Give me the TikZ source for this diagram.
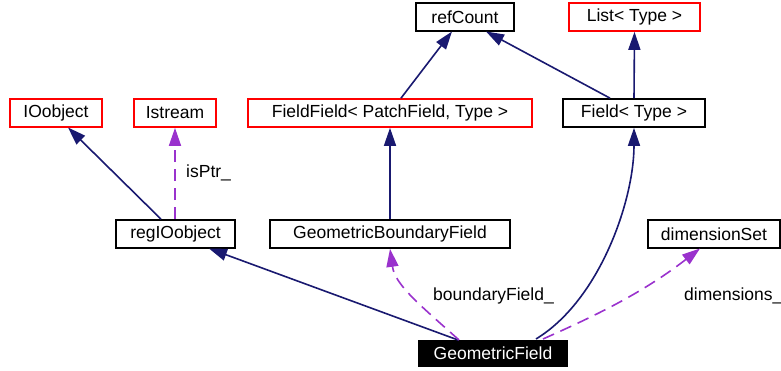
\documentclass[tikz,border=0pt]{standalone}
\usepackage{fontspec}
\setmainfont{Liberation Sans}
\usetikzlibrary{arrows.meta}
\definecolor{edgeblue}{HTML}{191970}
\definecolor{edgepurple}{HTML}{9A32CD}
\begin{document}
\begin{tikzpicture}[x=1pt,y=-1pt,
  cls/.style={draw=black,line width=1.7pt,inner sep=0pt,font=\fontsize{17.5}{20}\selectfont},
  redcls/.style={cls,draw=red},
  curcls/.style={cls,fill=black,text=white},
  inh/.style={draw=edgeblue,line width=1.6pt,-{Triangle[length=18pt,width=12pt]},color=edgeblue},
  use/.style={draw=edgepurple,line width=1.6pt,dash pattern=on 12pt off 7pt,-{Triangle[length=18pt,width=12pt]},color=edgepurple},
  lbl/.style={font=\fontsize{17.5}{20}\selectfont,inner sep=0pt,anchor=west}]
\useasboundingbox (0,0) rectangle (781,371);
\node[cls,minimum width=98pt,minimum height=28pt] (refc) at (465,17) {refCount};
\node[redcls,minimum width=131pt,minimum height=28pt] (list) at (634.5,17) {List< Type >};
\node[redcls,minimum width=92pt,minimum height=28pt] (ioobj) at (56,113) {IOobject};
\node[redcls,minimum width=82pt,minimum height=28pt] (istr) at (175,113) {Istream};
\node[redcls,minimum width=284pt,minimum height=28pt] (ff) at (390,113) {FieldField< PatchField, Type >};
\node[cls,minimum width=142pt,minimum height=28pt] (field) at (634,113) {Field< Type >};
\node[cls,minimum width=119pt,minimum height=28pt] (reg) at (175.5,234) {regIOobject};
\node[cls,minimum width=240pt,minimum height=28pt] (gbf) at (390,234) {GeometricBoundaryField};
\node[cls,minimum width=132pt,minimum height=28pt] (dim) at (714,234) {dimensionSet};
\node[curcls,minimum width=148pt,minimum height=25pt] (gf) at (493,353.5) {GeometricField};
\coordinate (gfA) at (458,340);
\coordinate (gfB) at (459,340);
\coordinate (gfC) at (536,339);
\coordinate (gfD) at (543,339);
\draw[inh] (reg.north -| 161,0) -- (68,127.5);
\draw[use] (istr.south |- reg.north) -- (istr.south);
\node[lbl] (isptr) at (186,173) {isPtr\_};
\draw[inh] (gbf.north) -- (ff.south);
\draw[inh] (ff.north -| 401,0) -- (452,31.5);
\draw[inh] (field.north -| 610,0) -- (486,31.5);
\draw[inh] (field.north) -- (list.south);
\draw[inh] (gfA) -- (209,248.5);
\draw[use] (gfB) .. controls (420,305) and (395,285) .. (gbf.south);
\node[lbl] (bf) at (433,296) {boundaryField\_};
\draw[inh] (gfC) .. controls (600,300) and (634,200) .. (field.south);
\draw[use] (gfD) .. controls (590,318) and (640,295) .. (700,248.5);
\node[lbl] (dl) at (684,296) {dimensions\_};
\end{tikzpicture}
\end{document}
